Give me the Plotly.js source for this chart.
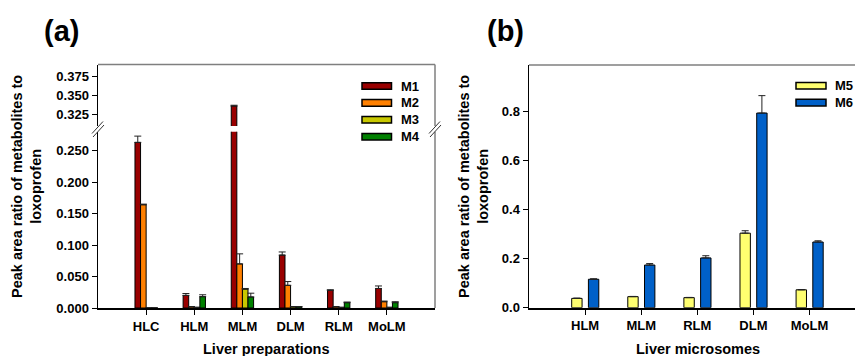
<!DOCTYPE html>
<html>
<head>
<meta charset="utf-8">
<script src="https://cdn.plot.ly/plotly-3.0.1.min.js"></script>
<style>html,body{margin:0;padding:0;background:#fff;}#chart{width:855px;height:356px;}</style>
</head>
<body>
<div id="chart"></div>
<script>
// ---------- data ----------
const catsA = ['HLC', 'HLM', 'MLM', 'DLM', 'RLM', 'MoLM'];
const seriesA = ['M1', 'M2', 'M3', 'M4'];
const m1 = [0.263, 0.020, 0.336, 0.084, 0.028, 0.031];
const m1err = [0.010, 0.003, 0.001, 0.005, 0.001, 0.004];
const m2 = [0.164, 0.002, 0.070, 0.036, 0.002, 0.010];
const m2err = [0.001, 0.000, 0.016, 0.006, 0.000, 0.001];
const m3 = [0.000, 0.001, 0.030, 0.002, 0.001, 0.001];
const m3err = [0.000, 0.000, 0.001, 0.000, 0.000, 0.000];
const m4 = [0.000, 0.018, 0.0175, 0.002, 0.0085, 0.0085];
const m4err = [0.000, 0.003, 0.006, 0.000, 0.001, 0.0015];

const catsB = ['HLM', 'MLM', 'RLM', 'DLM', 'MoLM'];
const seriesB = ['M5', 'M6'];
const m5 = [0.038, 0.045, 0.041, 0.304, 0.073];
const m5err = [0.001, 0.001, 0.001, 0.010, 0.001];
const m6 = [0.116, 0.174, 0.203, 0.794, 0.268];
const m6err = [0.002, 0.006, 0.009, 0.071, 0.005];

const ticksALow = [0, 0.05, 0.10, 0.15, 0.20, 0.25];
const ticksAHigh = [0.325, 0.350, 0.375];
const ticksB = [0, 0.2, 0.4, 0.6, 0.8];

// ---------- styles ----------
const colorsA = ['#990000', '#FF8000', '#C8C800', '#008000'];
const colorsB = ['#FFFF70', '#0060C8'];
const FONT = 'Arial, "Liberation Sans", Helvetica, sans-serif';
const W = 855, H = 356;
const px = x => x / W;
const py = y => (H - y) / H;

const valsA = [m1, m2, m3, m4];
const errsA = [m1err, m2err, m3err, m4err];
const valsB = [m5, m6];
const errsB = [m5err, m6err];

const widthA = 0.116, offsetsA = [-0.232, -0.116, 0, 0.116];
const widthB = 0.185, offsetsB = [-0.239, 0.059];

function bar(x, y, err, color, width, offset, xa, ya, name) {
  return {
    type: 'bar', x: x, y: y, name: name, xaxis: xa, yaxis: ya,
    width: width, offset: offset, showlegend: false,
    marker: {color: color, line: {color: '#000', width: 1}},
    error_y: {type: 'data', array: err, arrayminus: err.map(() => 0), symmetric: false,
              color: '#222', thickness: 1, width: 3.5}
  };
}

const traces = [];
seriesA.forEach((s, i) => {
  traces.push(bar(catsA, valsA[i], errsA[i], colorsA[i], widthA, offsetsA[i], 'x', 'y', s));
  traces.push(bar(catsA, valsA[i], errsA[i], colorsA[i], widthA, offsetsA[i], 'x', 'y2', s));
});
seriesB.forEach((s, i) => {
  traces.push(bar(catsB, valsB[i], errsB[i], colorsB[i], widthB, offsetsB[i], 'x2', 'y3', s));
});

const tickfont = {family: FONT, size: 13, color: '#000', weight: 'bold'};
const yBase = {
  showgrid: false, zeroline: false, showline: true, linecolor: '#000', linewidth: 1.5,
  ticks: 'outside', ticklen: 5, tickcolor: '#000', tickwidth: 1, tickfont: tickfont, fixedrange: true
};
const xBase = {
  type: 'category', showgrid: false, zeroline: false, showline: true, linecolor: '#000', linewidth: 2,
  ticks: 'outside', ticklen: 5, tickcolor: '#000', tickwidth: 1, tickfont: tickfont, fixedrange: true
};

// frame and break marks (a), frame (b), custom legends
const shapes = [];
const gray = '#7f7f7f';
// (a) top border
shapes.push({type: 'line', xref: 'paper', yref: 'paper', x0: px(98), x1: px(435), y0: py(64.5), y1: py(64.5), line: {color: gray, width: 1.5}});
// (a) right border (broken)
shapes.push({type: 'line', xref: 'paper', yref: 'paper', x0: px(435), x1: px(435), y0: py(64.5), y1: py(126), line: {color: gray, width: 1.5}});
shapes.push({type: 'line', xref: 'paper', yref: 'paper', x0: px(435), x1: px(435), y0: py(131.7), y1: py(308), line: {color: gray, width: 1.5}});
// (b) top border
shapes.push({type: 'line', xref: 'paper', yref: 'paper', x0: px(529), x1: 1, y0: py(65), y1: py(65), line: {color: gray, width: 1.5}});
// break slashes
[98, 435].forEach(cx => {
  [[-6, 133.5, 5, 121.5], [-5, 137, 6, 125]].forEach(d => {
    shapes.push({type: 'line', xref: 'paper', yref: 'paper', x0: px(cx + d[0]), y0: py(d[1]), x1: px(cx + d[2]), y1: py(d[3]), line: {color: '#333', width: 1}});
  });
});

const annotations = [];
// legends
seriesA.forEach((s, i) => {
  const yc = 86 + i * 16.9;
  shapes.push({type: 'rect', xref: 'paper', yref: 'paper', x0: px(362), x1: px(391.5), y0: py(yc - 3.3), y1: py(yc + 3.3), fillcolor: colorsA[i], line: {color: '#000', width: 1.5}});
  annotations.push({xref: 'paper', yref: 'paper', x: px(399), y: py(yc), xanchor: 'left', yanchor: 'middle', text: s, showarrow: false, font: {family: FONT, size: 13, color: '#000', weight: 'bold'}});
});
seriesB.forEach((s, i) => {
  const yc = 85.8 + i * 16.8;
  shapes.push({type: 'rect', xref: 'paper', yref: 'paper', x0: px(796), x1: px(826), y0: py(yc - 3.3), y1: py(yc + 3.3), fillcolor: colorsB[i], line: {color: '#000', width: 1.5}});
  annotations.push({xref: 'paper', yref: 'paper', x: px(833), y: py(yc), xanchor: 'left', yanchor: 'middle', text: s, showarrow: false, font: {family: FONT, size: 13, color: '#000', weight: 'bold'}});
});
// panel labels
annotations.push({xref: 'paper', yref: 'paper', x: px(61), y: py(31), xanchor: 'center', yanchor: 'middle', text: '(a)', showarrow: false, font: {family: FONT, size: 29, color: '#000', weight: 'bold'}});
annotations.push({xref: 'paper', yref: 'paper', x: px(505), y: py(31), xanchor: 'center', yanchor: 'middle', text: '(b)', showarrow: false, font: {family: FONT, size: 29, color: '#000', weight: 'bold'}});
// axis titles
const ytitle = 'Peak area ratio of metabolites to<br>loxoprofen';
const titleFont = {family: FONT, size: 14.5, color: '#000', weight: 'bold'};
annotations.push({xref: 'paper', yref: 'paper', x: px(26), y: py(187), xanchor: 'center', yanchor: 'middle', textangle: -90, text: ytitle, showarrow: false, font: titleFont});
annotations.push({xref: 'paper', yref: 'paper', x: px(473), y: py(187), xanchor: 'center', yanchor: 'middle', textangle: -90, text: ytitle, showarrow: false, font: titleFont});
annotations.push({xref: 'paper', yref: 'paper', x: px(266), y: py(339), xanchor: 'center', yanchor: 'top', text: 'Liver preparations', showarrow: false, font: titleFont});
annotations.push({xref: 'paper', yref: 'paper', x: px(698), y: py(339), xanchor: 'center', yanchor: 'top', text: 'Liver microsomes', showarrow: false, font: titleFont});

const layout = {
  width: W, height: H,
  margin: {l: 0, r: 0, t: 0, b: 0, pad: 0},
  paper_bgcolor: '#fff', plot_bgcolor: 'rgba(0,0,0,0)',
  barmode: 'overlay', showlegend: false,
  font: {family: FONT, color: '#000'},
  xaxis: Object.assign({}, xBase, {domain: [px(98), px(435)], range: [-1, 6], anchor: 'y'}),
  yaxis: Object.assign({}, yBase, {domain: [py(308), py(131.7)], range: [0, 0.28], tickvals: ticksALow, tickformat: '.3f', anchor: 'x'}),
  yaxis2: Object.assign({}, yBase, {domain: [py(126), py(64.5)], range: [0.31, 0.39], tickvals: ticksAHigh, tickformat: '.3f', anchor: 'x'}),
  xaxis2: Object.assign({}, xBase, {domain: [px(529), 1], range: [-1, (855 - 529) / 56.1 - 1], anchor: 'y3'}),
  yaxis3: Object.assign({}, yBase, {domain: [py(307.7), py(65)], range: [0, 0.99], tickvals: ticksB, tickformat: '.1f', anchor: 'x2'}),
  shapes: shapes,
  annotations: annotations
};

Plotly.newPlot('chart', traces, layout, {staticPlot: true, displayModeBar: false});
</script>
</body>
</html>
